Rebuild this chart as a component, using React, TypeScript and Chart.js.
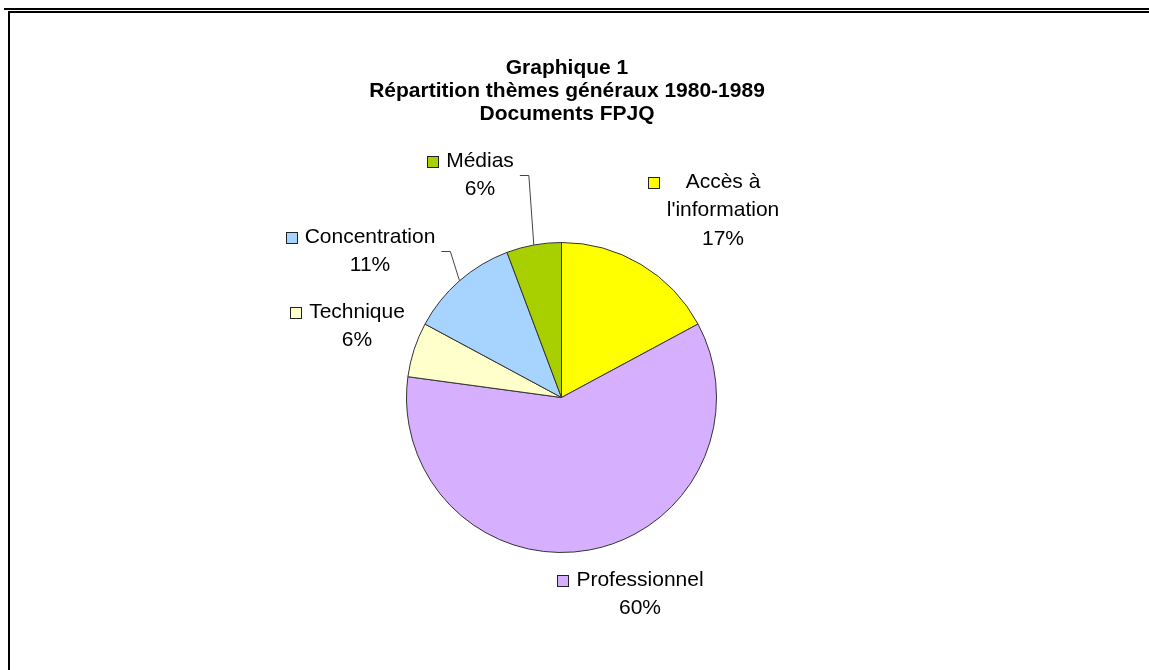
import React, { useEffect, useRef } from "react";
import { Chart, registerables } from "chart.js";

Chart.register(...registerables);

const categories = ["Accès à l'information", "Professionnel", "Technique", "Concentration", "Médias"];
const categoryLabelLines = [["Accès à", "l'information"], ["Professionnel"], ["Technique"], ["Concentration"], ["Médias"]];
const counts = [6, 21, 2, 4, 2];
const sliceColors = ["#FFFF00", "#D6B0FF", "#FFFFCC", "#A6D4FF", "#A8D000"];
const titleLines = ["Graphique 1", "Répartition thèmes généraux 1980-1989", "Documents FPJQ"];

// label block placement relative to the pie centre (block centre x, first line y)
const labelOffsets = [
  [161.5, -215.5],
  [78.5, 182.5],
  [-204.5, -85.5],
  [-191.5, -160.5],
  [-81.5, -236.5],
];
const hasLeader = [false, false, false, true, true];

const FONT = "'Liberation Sans', Arial, Helvetica, sans-serif";

const labelPlugin = {
  id: "excelLabels",
  afterDraw(chart: any) {
    const ctx = chart.ctx as CanvasRenderingContext2D;
    const meta = chart.getDatasetMeta(0);
    const total = counts.reduce((a, b) => a + b, 0);
    ctx.save();
    // title
    ctx.fillStyle = "#000";
    ctx.textAlign = "center";
    ctx.textBaseline = "middle";
    ctx.font = `bold 21px ${FONT}`;
    titleLines.forEach((t, i) => ctx.fillText(t, 567, 68 + i * 23));

    const lineH = 28.5;
    meta.data.forEach((arc: any, i: number) => {
      const cx = arc.x;
      const cy = arc.y;
      const r = arc.outerRadius;
      const bx = cx + labelOffsets[i][0];
      const by = cy + labelOffsets[i][1];
      const pct = Math.round((counts[i] / total) * 100) + "%";
      const lines = [...categoryLabelLines[i], pct];
      ctx.font = `21px ${FONT}`;
      ctx.fillStyle = "#000";
      let maxW = 0;
      lines.forEach((l) => {
        maxW = Math.max(maxW, ctx.measureText(l).width);
      });
      lines.forEach((l, k) => ctx.fillText(l, bx, by + k * lineH));
      const left = bx - maxW / 2;
      const right = bx + maxW / 2;
      // legend key
      ctx.fillStyle = sliceColors[i];
      ctx.strokeStyle = "#222";
      ctx.lineWidth = 1;
      const ks = 11;
      const kx = Math.round(left - 8 - ks) + 0.5;
      const ky = Math.round(by - ks / 2) + 0.5;
      ctx.fillRect(kx, ky, ks, ks);
      ctx.strokeRect(kx, ky, ks, ks);
      // leader line
      if (hasLeader[i]) {
        const mid = (arc.startAngle + arc.endAngle) / 2;
        const px = cx + Math.cos(mid) * r;
        const py = cy + Math.sin(mid) * r;
        const my = by + lineH / 2;
        ctx.strokeStyle = "#444";
        ctx.beginPath();
        ctx.moveTo(right + 6, Math.round(my) + 0.5);
        ctx.lineTo(right + 15, Math.round(my) + 0.5);
        ctx.lineTo(px, py);
        ctx.stroke();
      }
    });
    ctx.restore();
  },
};

export default function App() {
  const ref = useRef<HTMLCanvasElement | null>(null);
  useEffect(() => {
    if (!ref.current) return;
    const chart = new Chart(ref.current, {
      type: "pie",
      data: {
        labels: categories,
        datasets: [
          {
            data: counts,
            backgroundColor: sliceColors,
            borderColor: "#333",
            borderWidth: 1,
          },
        ],
      },
      options: {
        responsive: false,
        maintainAspectRatio: false,
        devicePixelRatio: 1,
        animation: false,
        layout: { padding: { left: 406, top: 242, right: 432, bottom: 117 } },
        plugins: {
          legend: { display: false },
          tooltip: { enabled: false },
          title: { display: false },
        },
      },
      plugins: [labelPlugin],
    });
    return () => chart.destroy();
  }, []);
  return (
    <div style={{ position: "absolute", left: 0, top: 0, width: 1149, height: 670, background: "#fff", overflow: "hidden" }}>
      <canvas ref={ref} width={1149} height={670} style={{ position: "absolute", left: 0, top: 0 }} />
      <div style={{ position: "absolute", left: 4, top: 8, width: 1145, height: 2, background: "#000" }} />
      <div style={{ position: "absolute", left: 8, top: 11, width: 1141, height: 2, background: "#000" }} />
      <div style={{ position: "absolute", left: 8, top: 11, width: 2, height: 659, background: "#000" }} />
    </div>
  );
}
